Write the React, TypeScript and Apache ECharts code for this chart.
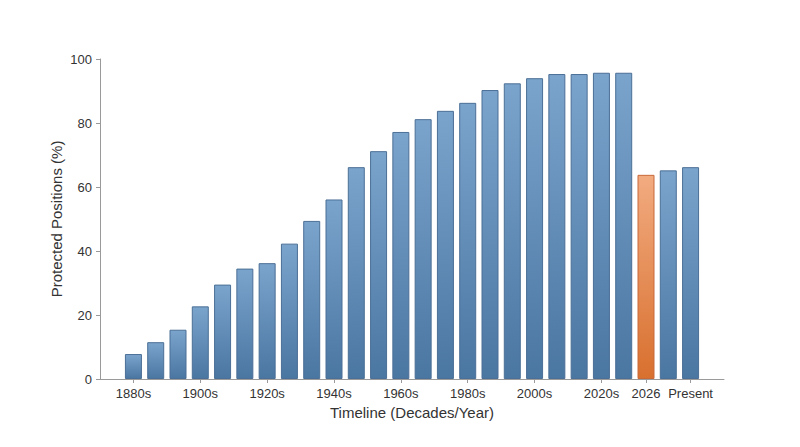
import React, { useEffect, useRef } from "react";
import * as echarts from "echarts";

const categories = [
  "", "1880s", "", "", "1900s", "", "", "1920s", "", "", "1940s", "", "", "1960s",
  "", "", "1980s", "", "", "2000s", "", "", "2020s", "", "2026", "", "Present", "",
];
const values: (number | null)[] = [
  null, 7.8, 11.5, 15.4, 22.7, 29.5, 34.5, 36.2, 42.3, 49.4, 56.1, 66.2, 71.2, 77.2,
  81.2, 83.8, 86.3, 90.3, 92.4, 94.0, 95.3, 95.3, 95.7, 95.7, 63.8, 65.2, 66.2, null,
];
const highlightIndex = 24;
const yTicks = [0, 20, 40, 60, 80, 100];

const blueFill = new echarts.graphic.LinearGradient(0, 0, 0, 1, [
  { offset: 0, color: "#7ba4cc" },
  { offset: 1, color: "#4a76a2" },
]);
const orangeFill = new echarts.graphic.LinearGradient(0, 0, 0, 1, [
  { offset: 0, color: "#f2ab80" },
  { offset: 1, color: "#d8702f" },
]);

export default function App() {
  const ref = useRef<HTMLDivElement>(null);
  useEffect(() => {
    document.body.style.margin = "0";
    const chart = echarts.init(ref.current!, null, { renderer: "svg" });
    const font = "'Liberation Sans', Arial, sans-serif";
    chart.setOption({
      animation: false,
      backgroundColor: "#ffffff",
      grid: { left: 100, right: 76, top: 59, bottom: 68, containLabel: false },
      xAxis: {
        type: "category",
        data: categories,
        name: "Timeline (Decades/Year)",
        nameLocation: "middle",
        nameGap: 24,
        nameTextStyle: { fontSize: 15, color: "#333", fontFamily: font },
        axisLine: { lineStyle: { color: "#9a9a9a", width: 1 } },
        axisTick: {
          show: true,
          alignWithLabel: true,
          interval: (i: number, v: string) => v !== "",
          length: 4,
          lineStyle: { color: "#9a9a9a" },
        },
        axisLabel: {
          interval: 0,
          fontSize: 13,
          color: "#333",
          fontFamily: font,
          margin: 8,
        },
      },
      yAxis: {
        type: "value",
        min: yTicks[0],
        max: yTicks[yTicks.length - 1],
        interval: 20,
        name: "Protected Positions (%)",
        nameLocation: "middle",
        nameGap: 36,
        nameMoveOverlap: false,
        nameTextStyle: { fontSize: 15, color: "#333", fontFamily: font },
        axisLine: { show: true, lineStyle: { color: "#9a9a9a", width: 1 } },
        axisTick: { show: true, length: 4, lineStyle: { color: "#9a9a9a" } },
        splitLine: { show: false },
        axisLabel: { fontSize: 13, color: "#333", fontFamily: font, margin: 8 },
      },
      series: [
        {
          type: "bar",
          data: values.map((v, i) =>
            i === highlightIndex
              ? {
                  value: v,
                  itemStyle: { color: orangeFill, borderColor: "#c9693a", borderWidth: 1 },
                }
              : v
          ),
          barWidth: 17,
          itemStyle: { color: blueFill, borderColor: "#4b6f96", borderWidth: 1 },
        },
      ],
    });
    return () => chart.dispose();
  }, []);
  return <div ref={ref} style={{ width: 800, height: 447 }} />;
}
